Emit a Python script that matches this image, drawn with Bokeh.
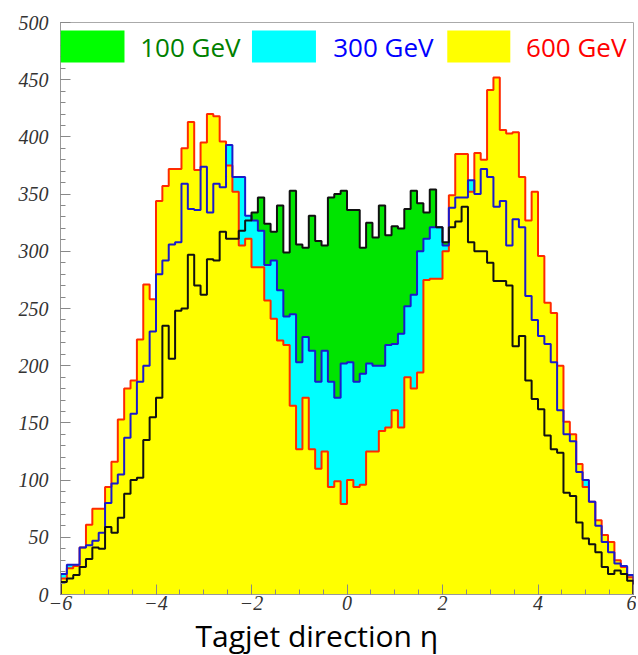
import numpy as np
from bokeh.plotting import figure
from bokeh.models import Range1d, FixedTicker, BoxAnnotation, Label, Title
from bokeh.embed import file_html
from bokeh.resources import INLINE

# ---- data -------------------------------------------------------------
eta_min, eta_max, n_bins = -6.0, 6.0, 90

counts_100 = [11, 14, 17, 24, 31, 41, 40, 59, 54, 67,
              88, 100, 102, 135, 155, 172, 235, 206, 248, 250,
              297, 270, 262, 293, 292, 317, 311, 311, 318, 327,
              334, 347, 324, 317, 340, 299, 353, 306, 303, 331,
              309, 305, 347, 350, 353, 336, 336, 303, 325, 312,
              340, 314, 322, 320, 337, 353, 342, 334, 354, 321,
              308, 321, 326, 339, 308, 300, 300, 290, 274, 274,
              270, 217, 226, 187, 171, 162, 139, 127, 124, 89,
              86, 63, 49, 44, 37, 24, 18, 21, 18, 12]

counts_300 = [18, 26, 26, 41, 43, 47, 54, 80, 97, 105,
              137, 158, 186, 200, 230, 280, 292, 306, 308, 359,
              337, 336, 374, 334, 359, 356, 393, 365, 365, 331,
              327, 318, 288, 292, 266, 243, 245, 203, 225, 213,
              186, 213, 186, 172, 202, 203, 186, 193, 202, 200,
              200, 218, 219, 228, 252, 262, 300, 311, 321, 321,
              305, 338, 347, 347, 362, 350, 372, 365, 339, 344,
              305, 328, 321, 261, 240, 226, 219, 203, 161, 140,
              134, 107, 100, 81, 60, 46, 37, 27, 25, 17]

counts_600 = [14, 23, 25, 41, 61, 75, 75, 94, 116, 153,
              180, 187, 223, 271, 258, 344, 357, 372, 372, 390,
              413, 371, 395, 420, 418, 396, 375, 352, 305, 311,
              286, 286, 257, 241, 222, 218, 165, 127, 172, 127,
              110, 125, 94, 99, 79, 100, 94, 96, 125, 125,
              143, 146, 161, 146, 190, 180, 194, 275, 276, 276,
              300, 349, 385, 385, 352, 386, 380, 441, 452, 406,
              403, 404, 365, 327, 352, 296, 255, 246, 200, 151,
              140, 114, 94, 81, 65, 52, 46, 30, 24, 15]

x_ticks = [-6, -4, -2, 0, 2, 4, 6]
y_ticks = [0, 50, 100, 150, 200, 250, 300, 350, 400, 450, 500]
legend_labels = ["100 GeV", "300 GeV", "600 GeV"]
x_title = "Tagjet direction \u03b7"

# ---- styles -----------------------------------------------------------
fills = ["#00e400", "#00ffff", "#ffff00"]
legend_fills = ["#00ff00", "#00ffff", "#ffff00"]
outlines = ["#111111", "#1a1acc", "#ff2a00"]
text_cols = ["#008000", "#0000ff", "#ff0000"]
tick_font = "'Liberation Serif', 'Times New Roman', serif"

edges = np.linspace(eta_min, eta_max, n_bins + 1)

p = figure(width=636, height=655,
           x_range=Range1d(eta_min, eta_max), y_range=Range1d(0, 500),
           output_backend="svg", toolbar_location=None,
           min_border_left=60, min_border_right=3,
           min_border_top=22, min_border_bottom=61)

series = [counts_100, counts_300, counts_600]

# fills first (100, 300, 600 on top)
for vals, fc in zip(series, fills):
    y2 = list(vals) + [vals[-1]]
    p.varea_step(x=list(edges), y1=[0] * len(edges), y2=y2,
                 step_mode="after", fill_color=fc, fill_alpha=1.0)

# outlines afterwards
for vals, lc in zip([counts_600, counts_300, counts_100],
                    [outlines[2], outlines[1], outlines[0]]):
    xs = [eta_min] + list(edges)
    ys = [0] + list(vals) + [0]
    p.step(x=xs, y=ys, mode="after", line_color=lc, line_width=2)

# legend band
box_lr = [(-6.0, -4.66), (-1.99, -0.65), (2.10, 3.42)]
text_x = [-4.33, -0.29, 3.75]
for (l, r), fc, lab, tx, tc in zip(box_lr, legend_fills, legend_labels, text_x, text_cols):
    p.add_layout(BoxAnnotation(left=l, right=r, bottom=465, top=493,
                               fill_color=fc, fill_alpha=1.0, line_color=None))
    p.add_layout(Label(x=tx, y=479, text=lab, text_color=tc,
                       text_font="Open Sans", text_font_size="26px",
                       text_baseline="middle", text_align="left"))

# axis title below the x axis, slightly left of the frame centre
p.add_layout(Title(text=x_title, align="left", offset=135, standoff=0,
                   text_font="Open Sans", text_font_size="30px",
                   text_font_style="normal", text_color="#000000"), "below")

# axes
p.xaxis.ticker = FixedTicker(ticks=x_ticks,
                             minor_ticks=list(np.arange(-6.0, 6.01, 0.5)))
p.yaxis.ticker = FixedTicker(ticks=y_ticks, minor_ticks=list(range(0, 501, 10)))
for ax in [p.xaxis[0], p.yaxis[0]]:
    ax.major_tick_in = 10
    ax.major_tick_out = 0
    ax.minor_tick_in = 5
    ax.minor_tick_out = 0
    ax.axis_line_color = "#999999"
    ax.major_tick_line_color = "#888888"
    ax.minor_tick_line_color = "#888888"
    ax.major_label_text_font = tick_font
    ax.major_label_text_font_style = "italic"
    ax.major_label_text_font_size = "20px"
    ax.major_label_text_color = "#333333"
p.yaxis.major_label_standoff = 12
p.xaxis.major_label_standoff = 1

p.xgrid.visible = False
p.ygrid.visible = False
p.outline_line_color = "#aaaaaa"
p.background_fill_color = "white"

open("out.html", "w").write(file_html(p, INLINE))
